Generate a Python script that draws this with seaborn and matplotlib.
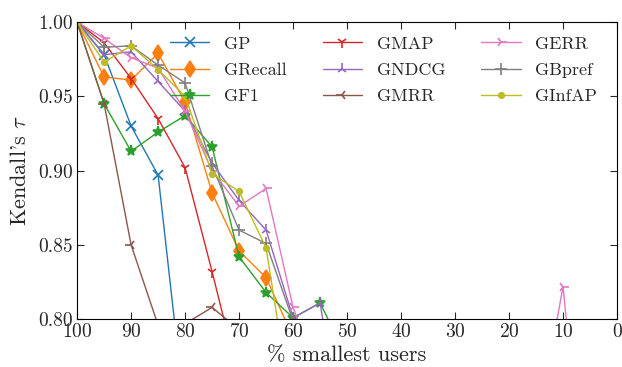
import numpy as np
import matplotlib
matplotlib.use("Agg")
import matplotlib.pyplot as plt
import seaborn as sns

# Share of smallest users kept (%)
pct = [100, 95, 90, 85, 80, 75, 70, 65, 60, 55, 50, 45, 40, 35, 30, 25, 20, 15, 10, 5]

# Kendall's tau against the full ranking, per metric
gp      = [1.000, 0.978, 0.930, 0.897, 0.735, 0.700, 0.680, 0.660, 0.640, 0.620, 0.600, 0.580, 0.560, 0.540, 0.520, 0.500, 0.480, 0.460, 0.440, 0.420]
grecall = [1.000, 0.963, 0.961, 0.979, 0.946, 0.885, 0.846, 0.828, 0.788, 0.760, 0.740, 0.720, 0.700, 0.680, 0.660, 0.640, 0.620, 0.600, 0.580, 0.560]
gf1     = [1.000, 0.945, 0.913, 0.926, 0.937, 0.916, 0.842, 0.818, 0.801, 0.811, 0.774, 0.750, 0.730, 0.710, 0.690, 0.670, 0.650, 0.630, 0.610, 0.590]
gmap    = [1.000, 0.986, 0.962, 0.935, 0.902, 0.832, 0.759, 0.720, 0.700, 0.680, 0.660, 0.640, 0.620, 0.600, 0.580, 0.560, 0.540, 0.520, 0.500, 0.480]
gndcg   = [1.000, 0.978, 0.980, 0.960, 0.940, 0.905, 0.880, 0.860, 0.801, 0.811, 0.700, 0.680, 0.660, 0.640, 0.620, 0.600, 0.580, 0.560, 0.540, 0.520]
gmrr    = [1.000, 0.945, 0.850, 0.796, 0.797, 0.808, 0.793, 0.760, 0.740, 0.720, 0.700, 0.680, 0.660, 0.640, 0.620, 0.600, 0.580, 0.560, 0.540, 0.520]
gerr    = [1.000, 0.989, 0.976, 0.969, 0.940, 0.900, 0.876, 0.888, 0.808, 0.760, 0.740, 0.720, 0.700, 0.690, 0.680, 0.700, 0.710, 0.722, 0.822, 0.639]
gbpref  = [1.000, 0.983, 0.984, 0.971, 0.959, 0.903, 0.860, 0.851, 0.799, 0.760, 0.740, 0.720, 0.700, 0.680, 0.660, 0.640, 0.620, 0.600, 0.580, 0.560]
ginfap  = [1.000, 0.973, 0.984, 0.968, 0.950, 0.898, 0.886, 0.848, 0.733, 0.700, 0.680, 0.660, 0.640, 0.620, 0.600, 0.580, 0.560, 0.540, 0.520, 0.500]

names = ["GP", "GRecall", "GF1", "GMAP", "GNDCG", "GMRR", "GERR", "GBpref", "GInfAP"]
series = [gp, grecall, gf1, gmap, gndcg, gmrr, gerr, gbpref, ginfap]

sns.set_style("ticks")
plt.rcParams["font.family"] = ["cmr10", "DejaVu Serif"]
plt.rcParams["mathtext.fontset"] = "cm"
plt.rcParams["axes.unicode_minus"] = False
plt.rcParams["axes.formatter.use_mathtext"] = True

palette = sns.color_palette("tab10", 9)
markers = ["x", "d", "*", "1", "2", "3", "4", "+", "."]
msizes = [7, 8.5, 8, 8, 8, 8, 8, 8, 8]

fig = plt.figure(figsize=(6.22, 3.67), dpi=100)
ax = fig.add_axes([0.124, 0.130, 0.868, 0.810])

for name, vals, col, mk, ms in zip(names, series, palette, markers, msizes):
    sns.lineplot(x=pct, y=vals, ax=ax, color=col, marker=mk, markersize=ms,
                 markeredgecolor=col, markeredgewidth=1.2, linewidth=1.0,
                 label=name, sort=False)

ax.set_xlim(100, 0)
ax.set_ylim(0.80, 1.00)
ax.set_xticks(range(100, -1, -10))
ax.set_yticks([0.80, 0.85, 0.90, 0.95, 1.00])
ax.set_yticklabels([f"{v:.2f}" for v in [0.80, 0.85, 0.90, 0.95, 1.00]])
ax.tick_params(direction="in", top=True, right=True, labelsize=14, length=5, width=0.8, pad=3)
for s in ax.spines.values():
    s.set_linewidth(0.8)
    s.set_color("black")

ax.set_xlabel("% smallest users", fontsize=16, labelpad=3)
ax.set_ylabel(r"Kendall's $\tau$", fontsize=16, labelpad=6)

ax.legend(ncol=3, frameon=False, loc="upper right", bbox_to_anchor=(0.987, 0.995),
          fontsize=13, handlelength=2.2, columnspacing=2.0, labelspacing=0.58,
          handletextpad=0.8, borderaxespad=0.3)

fig.savefig("out.png", dpi=100)
